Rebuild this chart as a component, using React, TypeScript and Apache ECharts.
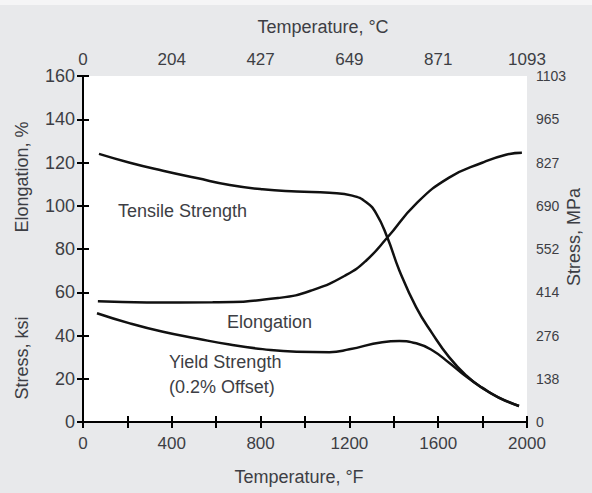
import React, { useEffect, useRef } from "react";
import * as echarts from "echarts";

// Temperature (°F) and values
const tensileTempF = [72, 211, 360, 512, 661, 809, 962, 1110, 1213, 1276, 1321, 1371, 1425, 1501, 1573, 1649, 1726, 1798, 1874, 1964];
const tensileKsi = [124.0, 119.9, 116.2, 112.8, 109.6, 107.6, 106.6, 106.0, 104.7, 101.6, 96.4, 85.3, 70.1, 53.0, 41.0, 30.0, 21.5, 15.7, 11.3, 7.4];

const yieldTempF = [63, 211, 360, 512, 661, 809, 962, 1110, 1200, 1348, 1425, 1501, 1573, 1649, 1726, 1798, 1874, 1964];
const yieldKsi = [50.3, 45.6, 41.7, 38.6, 35.8, 33.7, 32.5, 32.3, 33.6, 36.9, 37.4, 36.4, 33.2, 27.4, 21.0, 15.9, 11.2, 7.4];

const elongTempF = [67, 288, 584, 885, 1034, 1186, 1276, 1371, 1501, 1649, 1798, 1905, 1977];
const elongPct = [55.8, 55.3, 55.4, 57.4, 61.0, 68.0, 74.7, 85.3, 101.0, 113.0, 119.9, 123.6, 124.5];

// Axis labels
const fahrenheitLabelTicks = [0, 400, 800, 1200, 1600, 2000];
const celsiusLabels = ["0", "204", "427", "649", "871", "1093"];
const leftTicks = [0, 20, 40, 60, 80, 100, 120, 140, 160];
const mpaLabels = ["0", "138", "276", "414", "552", "690", "827", "965", "1103"];

const FONT = "Liberation Sans, Arial, Helvetica, sans-serif";
const TXT = "#3d3e44";
const LINE = "#111111";

const pairs = (xs: number[], ys: number[]) => xs.map((x, i) => [x, ys[i]]);

export default function App() {
  const ref = useRef<HTMLDivElement>(null);
  useEffect(() => {
    if (!ref.current) return;
    const chart = echarts.init(ref.current, null, { renderer: "svg" });
    const axisLine = { show: true, lineStyle: { color: "#000", width: 2 } };
    const axisTick = { show: true, inside: true, length: 6, lineStyle: { color: "#000", width: 2 } };
    const lineSeries = (name: string, data: number[][]) => ({
      name,
      type: "line",
      data,
      smooth: 0.5,
      showSymbol: false,
      symbol: "none",
      lineStyle: { color: LINE, width: 2.5 },
      xAxisIndex: 0,
      yAxisIndex: 0,
    });
    chart.setOption({
      animation: false,
      backgroundColor: "#e8e9eb",
      textStyle: { fontFamily: FONT },
      grid: {
        left: 83,
        right: 65,
        top: 76,
        bottom: 71,
        show: true,
        backgroundColor: "#ffffff",
        borderWidth: 0,
      },
      xAxis: [
        {
          type: "value",
          position: "bottom",
          min: 0,
          max: 2000,
          interval: 200,
          axisLine,
          axisTick,
          splitLine: { show: false },
          axisLabel: {
            margin: 13,
            color: TXT,
            fontSize: 17,
            fontFamily: FONT,
            formatter: (v: number) => (fahrenheitLabelTicks.includes(v) ? String(v) : ""),
          },
          name: "Temperature, °F",
          nameLocation: "middle",
          nameGap: 46,
          nameTextStyle: { color: TXT, fontSize: 18, fontFamily: FONT, padding: [0, 12, 0, 0] },
        },
        {
          type: "value",
          position: "top",
          min: 0,
          max: 2000,
          interval: 200,
          axisLine,
          axisTick,
          splitLine: { show: false },
          axisLabel: {
            margin: 8,
            color: TXT,
            fontSize: 17,
            fontFamily: FONT,
            formatter: (v: number) => {
              const i = fahrenheitLabelTicks.indexOf(v);
              return i >= 0 ? celsiusLabels[i] : "";
            },
          },
          name: "Temperature, °C",
          nameLocation: "middle",
          nameGap: 40,
          nameTextStyle: { color: TXT, fontSize: 18, fontFamily: FONT, padding: [0, 0, 0, 36] },
        },
      ],
      yAxis: [
        {
          type: "value",
          position: "left",
          min: 0,
          max: 160,
          interval: 20,
          axisLine,
          axisTick,
          splitLine: { show: false },
          axisLabel: {
            margin: 8,
            color: TXT,
            fontSize: 18,
            fontFamily: FONT,
            formatter: (v: number) => (leftTicks.includes(v) ? String(v) : ""),
          },
        },
        {
          type: "value",
          position: "right",
          min: 0,
          max: 160,
          interval: 20,
          axisLine,
          axisTick,
          splitLine: { show: false },
          axisLabel: {
            margin: 9,
            color: TXT,
            fontSize: 14,
            fontFamily: FONT,
            formatter: (v: number) => {
              const i = leftTicks.indexOf(v);
              return i >= 0 ? mpaLabels[i] : "";
            },
          },
        },
      ],
      graphic: [
        { type: "rect", shape: { x: 0, y: 0, width: 592, height: 5 }, style: { fill: "#f5f5f6" }, silent: true },
        {
          type: "text", x: 22, y: 177, rotation: Math.PI / 2,
          style: { text: "Elongation, %", fill: TXT, font: `18px ${FONT}`, textAlign: "center", textVerticalAlign: "middle" },
        },
        {
          type: "text", x: 22, y: 358, rotation: Math.PI / 2,
          style: { text: "Stress, ksi", fill: TXT, font: `18px ${FONT}`, textAlign: "center", textVerticalAlign: "middle" },
        },
        {
          type: "text", x: 574, y: 237, rotation: Math.PI / 2,
          style: { text: "Stress, MPa", fill: TXT, font: `18px ${FONT}`, textAlign: "center", textVerticalAlign: "middle" },
        },
        {
          type: "text", x: 118, y: 211,
          style: { text: "Tensile Strength", fill: TXT, font: `18px ${FONT}`, textAlign: "left", textVerticalAlign: "middle" },
        },
        {
          type: "text", x: 227, y: 322,
          style: { text: "Elongation", fill: TXT, font: `18px ${FONT}`, textAlign: "left", textVerticalAlign: "middle" },
        },
        {
          type: "text", x: 169, y: 362,
          style: { text: "Yield Strength", fill: TXT, font: `18px ${FONT}`, textAlign: "left", textVerticalAlign: "middle" },
        },
        {
          type: "text", x: 169, y: 387,
          style: { text: "(0.2% Offset)", fill: TXT, font: `18px ${FONT}`, textAlign: "left", textVerticalAlign: "middle" },
        },
      ],
      series: [
        lineSeries("Tensile Strength", pairs(tensileTempF, tensileKsi)),
        lineSeries("Yield Strength (0.2% Offset)", pairs(yieldTempF, yieldKsi)),
        lineSeries("Elongation", pairs(elongTempF, elongPct)),
      ],
    });
    return () => chart.dispose();
  }, []);
  return (
    <div
      ref={ref}
      style={{ position: "absolute", left: 0, top: 0, width: 592, height: 493 }}
    />
  );
}
